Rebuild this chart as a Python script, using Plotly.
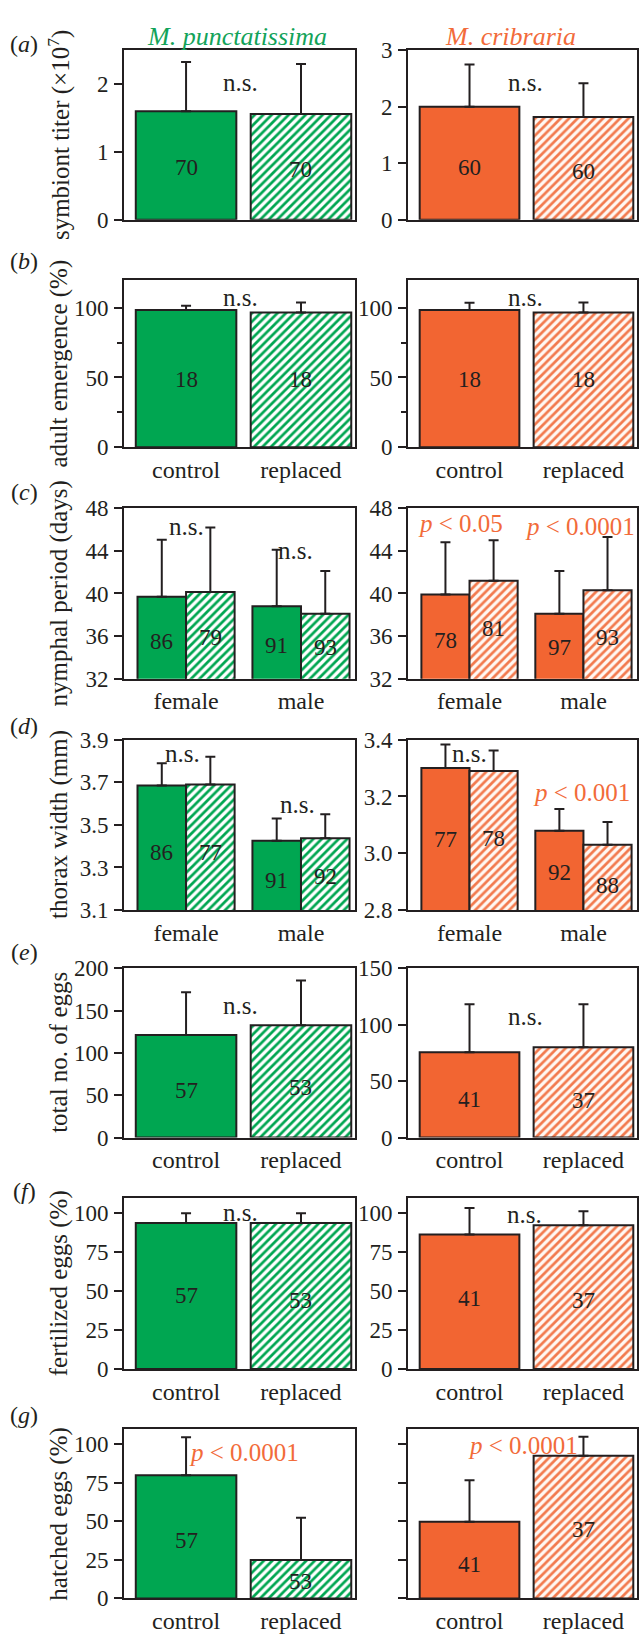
import plotly.graph_objects as go

# ---------------- data ----------------
treat_cats = ["control", "replaced"]
sex_cats = ["female", "male"]

# (a) symbiont titer (x10^7)
titer_mp = [1.60, 1.56]; titer_mp_err = [0.73, 0.74]; titer_mp_n = [70, 70]
titer_mc = [2.00, 1.82]; titer_mc_err = [0.75, 0.60]; titer_mc_n = [60, 60]
# (b) adult emergence (%)
emerg_mp = [98.3, 96.5]; emerg_mp_err = [3.1, 7.3]; emerg_mp_n = [18, 18]
emerg_mc = [98.3, 96.5]; emerg_mc_err = [5.2, 7.3]; emerg_mc_n = [18, 18]
# (c) nymphal period (days)  [female, male]
nymph_mp_ctrl = [39.7, 38.8]; nymph_mp_ctrl_err = [5.35, 5.3]; nymph_mp_ctrl_n = [86, 91]
nymph_mp_repl = [40.15, 38.1]; nymph_mp_repl_err = [6.05, 4.0]; nymph_mp_repl_n = [79, 93]
nymph_mc_ctrl = [39.9, 38.1]; nymph_mc_ctrl_err = [4.9, 4.0]; nymph_mc_ctrl_n = [78, 97]
nymph_mc_repl = [41.2, 40.3]; nymph_mc_repl_err = [3.8, 5.0]; nymph_mc_repl_n = [81, 93]
# (d) thorax width (mm)
thorax_mp_ctrl = [3.685, 3.426]; thorax_mp_ctrl_err = [0.105, 0.104]; thorax_mp_ctrl_n = [86, 91]
thorax_mp_repl = [3.69, 3.437]; thorax_mp_repl_err = [0.13, 0.113]; thorax_mp_repl_n = [77, 92]
thorax_mc_ctrl = [3.30, 3.079]; thorax_mc_ctrl_err = [0.083, 0.077]; thorax_mc_ctrl_n = [77, 92]
thorax_mc_repl = [3.29, 3.03]; thorax_mc_repl_err = [0.072, 0.08]; thorax_mc_repl_n = [78, 88]
# (e) total no. of eggs
eggs_mp = [121, 132.6]; eggs_mp_err = [50.7, 52.7]; eggs_mp_n = [57, 53]
eggs_mc = [75.6, 80.0]; eggs_mc_err = [42.4, 38.0]; eggs_mc_n = [41, 37]
# (f) fertilized eggs (%)
fert_mp = [93.7, 93.7]; fert_mp_err = [6.3, 6.3]; fert_mp_n = [57, 53]
fert_mc = [86.3, 92.2]; fert_mc_err = [17.1, 9.1]; fert_mc_n = [41, 37]
# (g) hatched eggs (%)
hatch_mp = [80.0, 25.0]; hatch_mp_err = [24.6, 27.4]; hatch_mp_n = [57, 53]
hatch_mc = [49.7, 92.6]; hatch_mc_err = [27.0, 12.3]; hatch_mc_n = [41, 37]

y_titles = ["symbiont titer (×10<sup>7</sup>)", "adult emergence (%)", "nymphal period (days)",
            "thorax width (mm)", "total no. of eggs", "fertilized eggs (%)", "hatched eggs (%)"]
row_letters = ["a", "b", "c", "d", "e", "f", "g"]
species = ["M. punctatissima", "M. cribraria"]

# ---------------- style ----------------
W, H = 640, 1636
FONT = "Liberation Serif"
DARK = "#231F20"
GREEN = "#00A651"
ORANGE = "#F26532"
ORANGE_HATCH = "#F27A4E"
ORANGE_BG = "#FFF8F3"
ORANGE_TXT = "#F26B3A"
FS = 23       # ticks, counts
FS_STAT = 25  # n.s. / p-values
FS_TITLE = 25 # y-axis titles

col_px = [(124, 355), (408, 637)]
row_px = [(39, 211), (272, 442), (504, 677), (739, 912), (971, 1143), (1204, 1378), (1439, 1611)]
XRANGE = [-0.54, 1.47]

def px_x(p):
    return p / W

def px_y(p):
    return 1 - p / H

fig = go.Figure()
annotations = []

def text_ann(text, x, y, xref, yref, size=FS, color=DARK, angle=0):
    return dict(text=text, x=x, y=y, xref=xref, yref=yref, showarrow=False,
                xanchor="center", yanchor="middle", textangle=angle,
                font=dict(family=FONT, size=size, color=color))

def ax_name(k, kind):
    return f"{kind}{'' if k == 1 else k}"

def bar_trace(k, x, y, err, solid, color, hatch_fg, hatch_bg, offsetgroup=None, width=None):
    marker = dict(line=dict(color=DARK, width=2))
    if solid:
        marker["color"] = color
    else:
        marker["color"] = hatch_bg
        marker["pattern"] = dict(shape="/", fgcolor=hatch_fg, bgcolor=hatch_bg,
                                 size=6, solidity=0.45, fillmode="replace")
    return go.Bar(x=x, y=y, width=width, offsetgroup=offsetgroup,
                  xaxis=ax_name(k, "x"), yaxis=ax_name(k, "y"), marker=marker,
                  error_y=dict(type="data", symmetric=False, array=err, arrayminus=[0] * len(err),
                               color=DARK, thickness=2, width=5),
                  showlegend=False, hoverinfo="skip")

def add_single(k, values, errs, ns, color, hatch_fg, hatch_bg, n_y):
    for i in range(2):
        fig.add_trace(bar_trace(k, [treat_cats[i]], [values[i]], [errs[i]], i == 0,
                                color, hatch_fg, hatch_bg, offsetgroup=f"g{k}", width=0.875))
    for i, (n, yy) in enumerate(zip(ns, n_y)):
        annotations.append(text_ann(str(n), i, yy, ax_name(k, "x"), ax_name(k, "y")))

def add_group(k, ctrl, ctrl_err, ctrl_n, repl, repl_err, repl_n, color, hatch_fg, hatch_bg, n_y):
    fig.add_trace(bar_trace(k, sex_cats, ctrl, ctrl_err, True, color, hatch_fg, hatch_bg))
    fig.add_trace(bar_trace(k, sex_cats, repl, repl_err, False, color, hatch_fg, hatch_bg))
    half = (1 - 0.155) / 4
    for i in range(2):
        annotations.append(text_ann(str(ctrl_n[i]), i - half, n_y[i][0], ax_name(k, "x"), ax_name(k, "y")))
        annotations.append(text_ann(str(repl_n[i]), i + half, n_y[i][1], ax_name(k, "x"), ax_name(k, "y")))

def stat(k, text, x, y, color=DARK):
    annotations.append(text_ann(text, x, y, ax_name(k, "x"), ax_name(k, "y"), size=FS_STAT, color=color))

P = "<i>p</i> &lt; "

# row a
add_single(1, titer_mp, titer_mp_err, titer_mp_n, GREEN, GREEN, "white", [0.77, 0.74])
add_single(2, titer_mc, titer_mc_err, titer_mc_n, ORANGE, ORANGE_HATCH, ORANGE_BG, [0.92, 0.86])
stat(1, "n.s.", 0.47, 2.02); stat(2, "n.s.", 0.49, 2.43)
# row b
add_single(3, emerg_mp, emerg_mp_err, emerg_mp_n, GREEN, GREEN, "white", [48.3, 48.3])
add_single(4, emerg_mc, emerg_mc_err, emerg_mc_n, ORANGE, ORANGE_HATCH, ORANGE_BG, [48.3, 48.3])
stat(3, "n.s.", 0.47, 107); stat(4, "n.s.", 0.49, 107)
# row c
add_group(5, nymph_mp_ctrl, nymph_mp_ctrl_err, nymph_mp_ctrl_n, nymph_mp_repl, nymph_mp_repl_err,
          nymph_mp_repl_n, GREEN, GREEN, "white", [(35.5, 35.9), (35.1, 34.9)])
add_group(6, nymph_mc_ctrl, nymph_mc_ctrl_err, nymph_mc_ctrl_n, nymph_mc_repl, nymph_mc_repl_err,
          nymph_mc_repl_n, ORANGE, ORANGE_HATCH, ORANGE_BG, [(35.6, 36.7), (34.9, 35.9)])
stat(5, "n.s.", 0.0, 46.25); stat(5, "n.s.", 0.95, 44.0)
stat(6, P + "0.05", -0.08, 46.55, ORANGE_TXT); stat(6, P + "0.0001", 0.97, 46.25, ORANGE_TXT)
# row d
add_group(7, thorax_mp_ctrl, thorax_mp_ctrl_err, thorax_mp_ctrl_n, thorax_mp_repl, thorax_mp_repl_err,
          thorax_mp_repl_n, GREEN, GREEN, "white", [(3.369, 3.369), (3.237, 3.257)])
add_group(8, thorax_mc_ctrl, thorax_mc_ctrl_err, thorax_mc_ctrl_n, thorax_mc_repl, thorax_mc_repl_err,
          thorax_mc_repl_n, ORANGE, ORANGE_HATCH, ORANGE_BG, [(3.05, 3.052), (2.934, 2.888)])
stat(7, "n.s.", -0.03, 3.834); stat(7, "n.s.", 0.97, 3.595)
stat(8, "n.s.", 0.0, 3.35); stat(8, P + "0.001", 0.98, 3.214, ORANGE_TXT)
# row e
add_single(9, eggs_mp, eggs_mp_err, eggs_mp_n, GREEN, GREEN, "white", [55.4, 59.3])
add_single(10, eggs_mc, eggs_mc_err, eggs_mc_n, ORANGE, ORANGE_HATCH, ORANGE_BG, [33.7, 32.8])
stat(9, "n.s.", 0.47, 156); stat(10, "n.s.", 0.49, 107)
# row f
add_single(11, fert_mp, fert_mp_err, fert_mp_n, GREEN, GREEN, "white", [47.4, 44.2])
add_single(12, fert_mc, fert_mc_err, fert_mc_n, ORANGE, ORANGE_HATCH, ORANGE_BG, [45.3, 44.2])
stat(11, "n.s.", 0.47, 100.4); stat(12, "n.s.", 0.48, 99)
# row g
add_single(13, hatch_mp, hatch_mp_err, hatch_mp_n, GREEN, GREEN, "white", [37.6, 11.2])
add_single(14, hatch_mc, hatch_mc_err, hatch_mc_n, ORANGE, ORANGE_HATCH, ORANGE_BG, [21.8, 45.0])
stat(13, P + "0.0001", 0.5, 94.7, ORANGE_TXT); stat(14, P + "0.0001", 0.47, 99, ORANGE_TXT)

yspecs = {
    1: ([0, 2.5], 1, 0, None), 2: ([0, 3], 1, 0, None),
    3: ([0, 120], 50, 0, 25), 4: ([0, 120], 50, 0, 25),
    5: ([32, 48], 4, 32, None), 6: ([32, 48], 4, 32, None),
    7: ([3.1, 3.9], 0.2, 3.1, None), 8: ([2.8, 3.4], 0.2, 2.8, None),
    9: ([0, 200], 50, 0, None), 10: ([0, 150], 50, 0, None),
    11: ([0, 110], 25, 0, None), 12: ([0, 110], 25, 0, None),
    13: ([0, 110], 25, 0, None), 14: ([0, 110], 25, 0, None),
}

layout = dict(width=W, height=H, margin=dict(l=0, r=0, t=0, b=0),
              paper_bgcolor="white", plot_bgcolor="white", barmode="group",
              bargap=0.155, bargroupgap=0, showlegend=False,
              font=dict(family=FONT, size=FS, color=DARK))

for r in range(7):
    for c in range(2):
        k = r * 2 + c + 1
        x0, x1 = col_px[c]
        y0, y1 = row_px[r]
        rng, dt, t0, mn = yspecs[k]
        cats = sex_cats if r in (2, 3) else treat_cats
        xa = dict(domain=[px_x(x0), px_x(x1)], anchor=ax_name(k, "y"), range=XRANGE,
                  type="category", categoryorder="array", categoryarray=cats,
                  showline=True, mirror=True, linecolor=DARK, linewidth=2, ticks="",
                  showgrid=False, zeroline=False, showticklabels=(r != 0),
                  tickfont=dict(family=FONT, size=24, color=DARK), fixedrange=True)
        ya = dict(domain=[px_y(y1), px_y(y0)], anchor=ax_name(k, "x"), range=rng,
                  dtick=dt, tick0=t0, showline=True, mirror=True, linecolor=DARK, linewidth=2,
                  ticks="outside", ticklen=8, tickwidth=2, tickcolor=DARK, showgrid=False,
                  zeroline=False, showticklabels=(k != 14), ticklabelstandoff=1,
                  tickfont=dict(family=FONT, size=FS, color=DARK), fixedrange=True)
        if k in (7, 8):
            ya["tickformat"] = ".1f"
        if mn:
            ya["minor"] = dict(dtick=mn, tick0=0, ticks="outside", ticklen=5, tickwidth=2,
                               tickcolor=DARK, showgrid=False)
        layout[ax_name(k, "xaxis")] = xa
        layout[ax_name(k, "yaxis")] = ya

letter_y = [33, 253, 487, 725, 955, 1197, 1425]
for r in range(7):
    annotations.append(text_ann(f"(<i>{row_letters[r]}</i>)", px_x(24), px_y(letter_y[r]),
                                "paper", "paper", size=24))
    y0, y1 = row_px[r]
    annotations.append(text_ann(y_titles[r], px_x(59), px_y((y0 + y1) / 2), "paper", "paper",
                                size=FS_TITLE, angle=-90))

annotations.append(text_ann(f"<i>{species[0]}</i>", px_x(237), px_y(25), "paper", "paper",
                            size=26, color="#13A35A"))
annotations.append(text_ann(f"<i>{species[1]}</i>", px_x(510), px_y(25), "paper", "paper",
                            size=26, color=ORANGE_TXT))

layout["annotations"] = annotations
fig.update_layout(**layout)

fig.write_html("out.html", config={"displayModeBar": False},
               post_script="document.body.style.margin='0';")
